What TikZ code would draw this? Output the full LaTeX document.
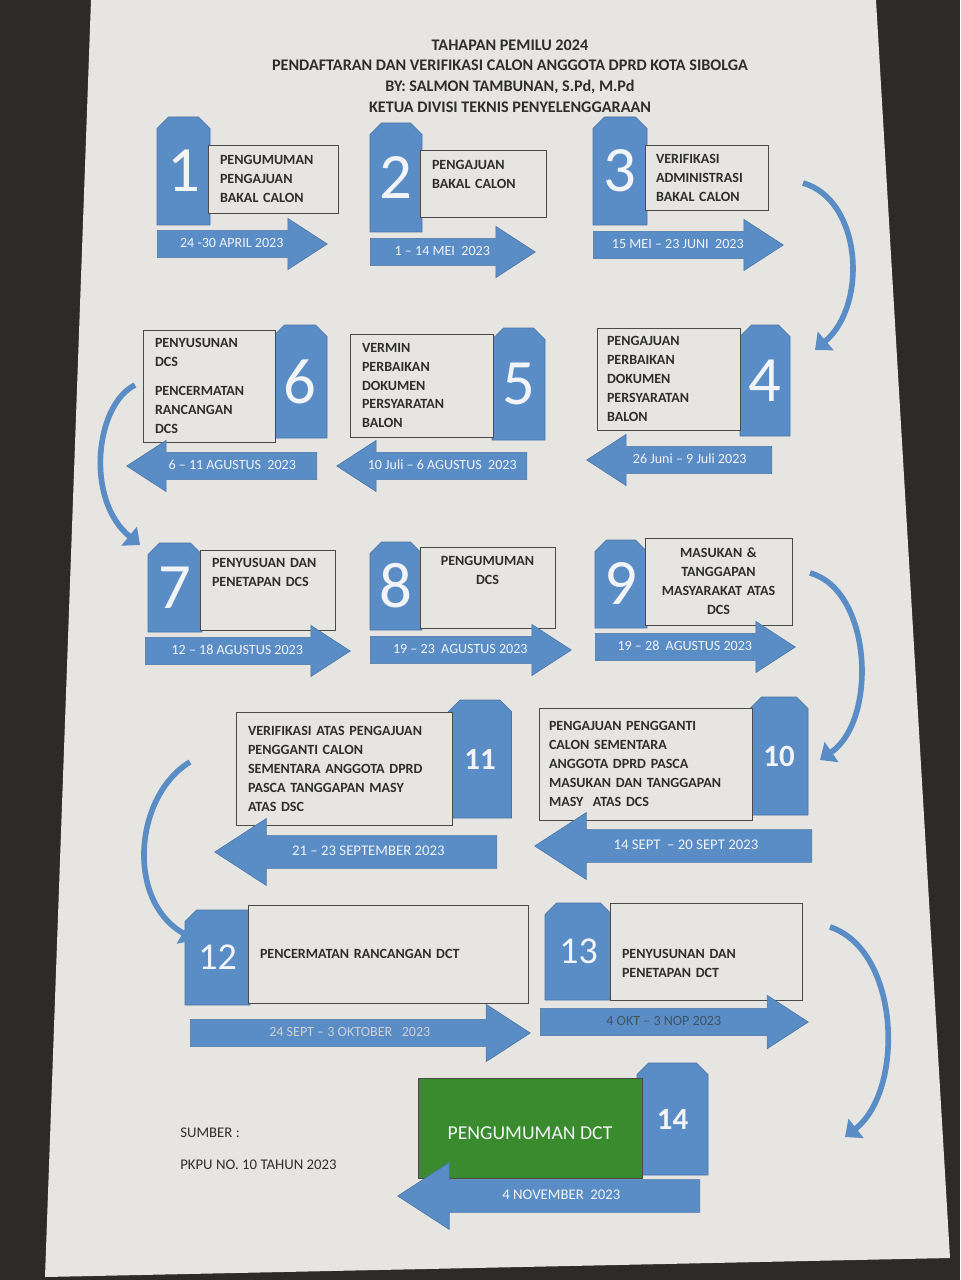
\documentclass[tikz,border=0pt]{standalone}
\usepackage{fontspec}
\setmainfont{Carlito}
\usetikzlibrary{arrows.meta,shapes.misc,shapes.arrows}
\definecolor{tablebg}{HTML}{2E2A27}
\definecolor{paper}{HTML}{E6E5E1}
\definecolor{stepblue}{HTML}{5A8DC6}
\definecolor{blueline}{HTML}{4A76A6}
\definecolor{boxline}{HTML}{4A4A48}
\definecolor{ink}{HTML}{2E2E2E}
\definecolor{numwhite}{HTML}{F2F4F8}
\definecolor{dctgreen}{HTML}{3A8A2E}
\definecolor{dategrey}{HTML}{46525E}
\newdimen\pxu \pxu=0.025cm

\begin{document}
\begin{tikzpicture}[x=0.025cm,y=-0.025cm,
every node/.style={inner sep=0pt,text=ink},
title/.style={align=center,font=\bfseries\fontsize{11.5}{14.7}\selectfont},
tab/.style={chamfered rectangle,chamfered rectangle corners={north west,north east},chamfered rectangle xsep=7\pxu,fill=stepblue,draw=blueline,thin,text=numwhite,font=\fontsize{46}{46}\selectfont},
smalltab/.style={tab,font=\bfseries\fontsize{22}{22}\selectfont},
midtab/.style={tab,font=\fontsize{27}{27}\selectfont},
box/.style={draw=boxline,fill=paper,thin,align=left,inner xsep=12\pxu,font=\bfseries\fontsize{10}{13.5}\selectfont},
midbox/.style={box,align=center},
datearrow/.style={single arrow,fill=stepblue,draw=blueline,thin,anchor=tail,single arrow tip angle=66,single arrow head extend=12\pxu,inner ysep=5.5pt,text height=6.5pt,text depth=1.5pt,text=numwhite,font=\fontsize{10}{10}\selectfont},
leftarrow/.style={datearrow,shape border rotate=180},
widearrow/.style={inner ysep=7.5pt,single arrow head extend=17\pxu,font=\fontsize{10.5}{10.5}\selectfont},
bendarrow/.style={stepblue,line width=4pt,-{Triangle[width=17pt,length=10pt]}},
source/.style={anchor=west,font=\fontsize{10.5}{10.5}\selectfont}
]
\fill[tablebg] (0,0) rectangle (960,1280);
\fill[paper] (91,0) -- (876,0) -- (950,1258) -- (45,1277) -- cycle;

\node[title] (head) at (510,76) {TAHAPAN PEMILU 2024\\PENDAFTARAN DAN VERIFIKASI CALON ANGGOTA DPRD KOTA SIBOLGA\\BY: SALMON TAMBUNAN, S.Pd, M.Pd\\KETUA DIVISI TEKNIS PENYELENGGARAAN};

\node[tab,minimum width=53\pxu,minimum height=108\pxu] (t1) at (183.5,171) {1};
\node[box,minimum width=130\pxu,minimum height=68\pxu,text width=106\pxu] (b1) at (273,179) {PENGUMUMAN\\PENGAJUAN\\BAKAL CALON};
\node[datearrow,minimum height=170\pxu] (d1) at (157,244) {24 -30 APRIL 2023};

\node[tab,minimum width=52\pxu,minimum height=109\pxu] (t2) at (396,177.5) {2};
\node[box,minimum width=126\pxu,minimum height=67\pxu,text width=102\pxu,text depth=27pt] (b2) at (483,183.5) {PENGAJUAN\\BAKAL CALON};
\node[datearrow,minimum height=165\pxu] (d2) at (370,252) {1 -- 14 MEI\ \ 2023};

\node[tab,minimum width=54\pxu,minimum height=108\pxu] (t3) at (620,171) {3};
\node[box,minimum width=123\pxu,minimum height=65\pxu,text width=101\pxu,inner xsep=11\pxu] (b3) at (706.5,177.5) {VERIFIKASI\\ADMINISTRASI\\BAKAL CALON};
\node[datearrow,minimum height=190\pxu] (d3) at (593,245) {15 MEI -- 23 JUNI\ \ 2023};

\node[tab,minimum width=50\pxu,minimum height=111\pxu] (t4) at (765,380.5) {4};
\node[box,minimum width=143\pxu,minimum height=102\pxu,text width=123\pxu,inner xsep=10\pxu] (b4) at (668.5,379) {PENGAJUAN\\PERBAIKAN\\DOKUMEN\\PERSYARATAN\\BALON};
\node[leftarrow,minimum height=185\pxu] (d4) at (772,460) {26 Juni -- 9 Juli 2023};

\node[tab,minimum width=53\pxu,minimum height=112\pxu] (t5) at (518.5,384) {5};
\node[box,minimum width=143\pxu,minimum height=103\pxu,text width=119\pxu] (b5) at (421.5,385.5) {VERMIN\\PERBAIKAN\\DOKUMEN\\PERSYARATAN\\BALON};
\node[leftarrow,minimum height=190\pxu] (d5) at (527,466) {10 Juli -- 6 AGUSTUS\ \ 2023};

\node[tab,minimum width=54\pxu,minimum height=113\pxu] (t6) at (300,381.5) {6};
\node[box,minimum width=132\pxu,minimum height=112\pxu,text width=108\pxu] (b6) at (209,386) {PENYUSUNAN\\DCS\\[7pt]PENCERMATAN\\RANCANGAN\\DCS};
\node[leftarrow,minimum height=190\pxu] (d6) at (317,466) {6 -- 11 AGUSTUS\ \ 2023};

\node[tab,minimum width=54\pxu,minimum height=89\pxu] (t7) at (175,587.5) {7};
\node[box,minimum width=135\pxu,minimum height=80\pxu,text width=111\pxu,text depth=39pt] (b7) at (267.5,590) {PENYUSUAN DAN\\PENETAPAN DCS};
\node[datearrow,minimum height=205\pxu] (d7) at (145,651) {12 -- 18 AGUSTUS 2023};

\node[tab,minimum width=52\pxu,minimum height=88\pxu] (t8) at (396,586) {8};
\node[midbox,minimum width=135\pxu,minimum height=81\pxu,text width=111\pxu,text depth=38pt] (b8) at (487.5,587.5) {PENGUMUMAN\\DCS};
\node[datearrow,minimum height=201\pxu] (d8) at (370,650) {19 -- 23\ \ AGUSTUS 2023};

\node[tab,minimum width=52\pxu,minimum height=88\pxu] (t9) at (621,584) {9};
\node[midbox,minimum width=147\pxu,minimum height=87\pxu,text width=135\pxu,inner xsep=6\pxu] (b9) at (718.5,581.5) {MASUKAN \&\\TANGGAPAN\\MASYARAKAT ATAS\\DCS};
\node[datearrow,minimum height=200\pxu] (d9) at (595,647) {19 -- 28\ \ AGUSTUS 2023};

\node[smalltab,minimum width=58\pxu,minimum height=118\pxu] (t10) at (779,756) {10};
\node[box,minimum width=213\pxu,minimum height=112\pxu,text width=193\pxu,inner xsep=10\pxu] (b10) at (645.5,764) {PENGAJUAN PENGGANTI\\CALON SEMENTARA\\ANGGOTA DPRD PASCA\\MASUKAN DAN TANGGAPAN\\MASY\ \ ATAS DCS};
\node[leftarrow,widearrow,minimum height=277\pxu] (d10) at (812,846) {14 SEPT\ \ -- 20 SEPT 2023};

\node[smalltab,minimum width=63\pxu,minimum height=118\pxu] (t11) at (480,759) {11};
\node[box,minimum width=216\pxu,minimum height=113\pxu,text width=192\pxu] (b11) at (344,768.5) {VERIFIKASI ATAS PENGAJUAN\\PENGGANTI CALON\\SEMENTARA ANGGOTA DPRD\\PASCA TANGGAPAN MASY\\ATAS DSC};
\node[leftarrow,widearrow,minimum height=282\pxu] (d11) at (497,852) {21 -- 23 SEPTEMBER 2023};

\node[midtab,chamfered rectangle corners={north west},minimum width=65\pxu,minimum height=95\pxu] (t12) at (217.5,957.5) {12};
\node[box,minimum width=280\pxu,minimum height=98\pxu,text width=256\pxu] (b12) at (388,954) {PENCERMATAN RANCANGAN DCT};
\node[datearrow,single arrow head extend=15\pxu,minimum height=340\pxu,text=numwhite!85!black] (d12) at (190,1033) {24 SEPT -- 3 OKTOBER\ \ \ 2023};

\node[midtab,minimum width=67\pxu,minimum height=97\pxu] (t13) at (578.5,951.5) {13};
\node[box,minimum width=192\pxu,minimum height=97\pxu,text width=168\pxu,text height=24pt] (b13) at (706,951.5) {PENYUSUNAN DAN\\PENETAPAN DCT};
\node[datearrow,single arrow head extend=13\pxu,minimum height=268\pxu,text=dategrey] (d13) at (540,1022) {4 OKT -- 3 NOP 2023};

\node[smalltab,minimum width=71\pxu,minimum height=112\pxu] (t14) at (672.5,1119) {14};
\node[box,fill=dctgreen,draw=boxline,align=center,minimum width=224\pxu,minimum height=100\pxu,text height=20pt,text depth=3pt,text=numwhite,font=\fontsize{14}{14}\selectfont] (b14) at (530,1128) {PENGUMUMAN DCT};
\node[leftarrow,widearrow,minimum height=302\pxu] (d14) at (700,1196) {4 NOVEMBER\ \ 2023};

\node[source] (src1) at (180,1133) {SUMBER :};
\node[source] (src2) at (180,1165) {PKPU NO. 10 TAHUN 2023};

\coordinate (k3s) at (803,183); \coordinate (k3e) at (815,350);
\coordinate (k6s) at (135,385); \coordinate (k6e) at (140,545);
\coordinate (k9s) at (810,573); \coordinate (k9e) at (820,760);
\coordinate (k11s) at (190,762); \coordinate (k11e) at (195,940);
\coordinate (k13s) at (830,927); \coordinate (k13e) at (845,1137);
\draw[bendarrow] (k3s) .. controls (862,200) and (868,305) .. (k3e);
\draw[bendarrow] (k6s) .. controls (95,405) and (85,500) .. (k6e);
\draw[bendarrow] (k9s) .. controls (872,590) and (878,720) .. (k9e);
\draw[bendarrow] (k11s) .. controls (135,795) and (125,900) .. (k11e);
\draw[bendarrow] (k13s) .. controls (900,950) and (905,1090) .. (k13e);
\end{tikzpicture}
\end{document}
